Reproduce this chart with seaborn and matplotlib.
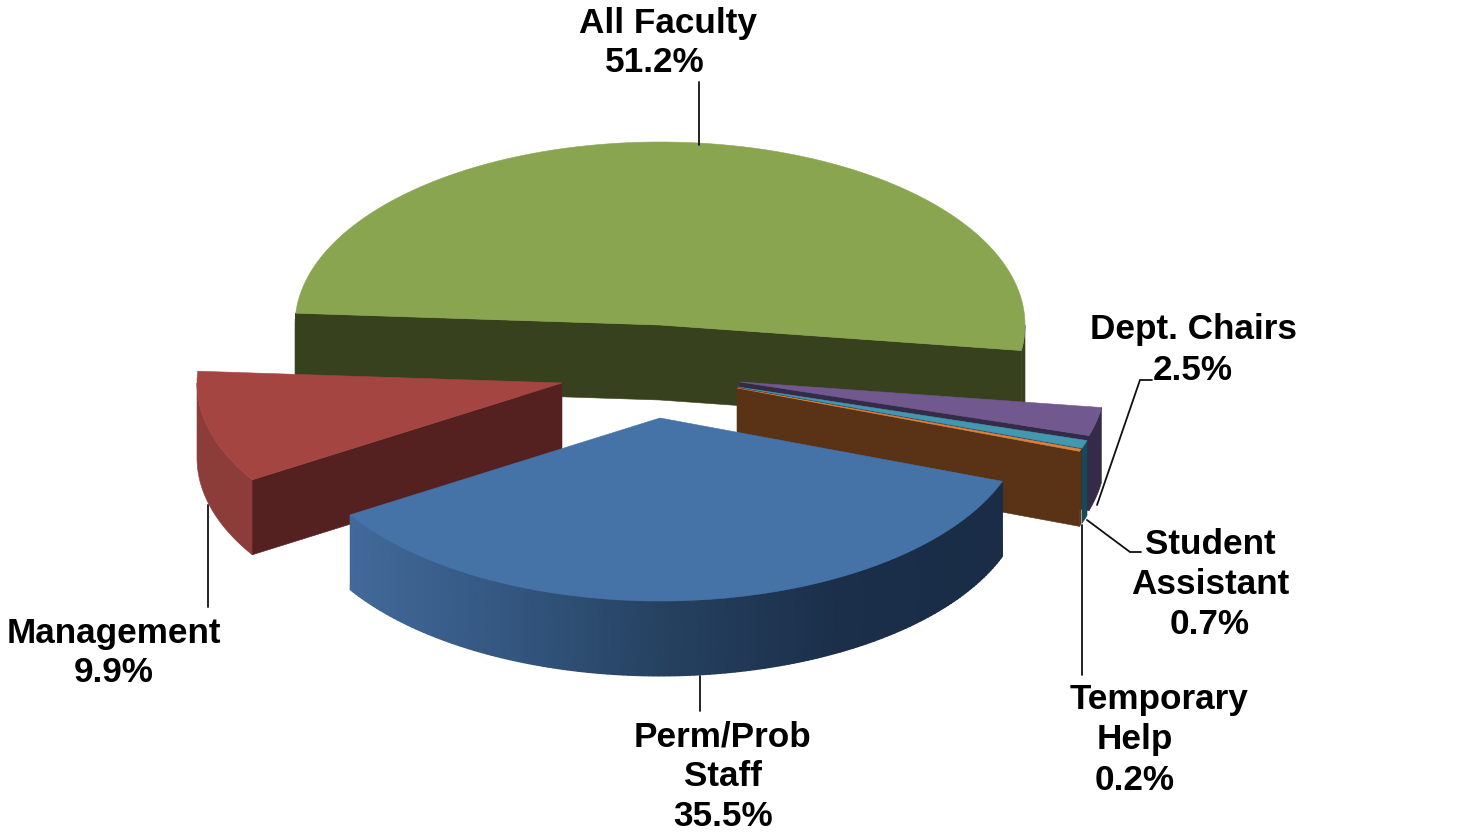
import numpy as np
import matplotlib
matplotlib.use("Agg")
import matplotlib.pyplot as plt
from matplotlib.patches import Polygon
import seaborn as sns

# ---- data ----
categories = ["All Faculty", "Dept. Chairs", "Student Assistant", "Temporary Help", "Perm/Prob Staff", "Management"]
shares = [51.2, 2.5, 0.7, 0.2, 35.5, 9.9]

# ---- style ----
top_colors = ["#8aa550", "#71588f", "#4198af", "#db843d", "#4572a7", "#a54542"]
wall_colors = ["#38411e", "#352a48", "#174a57", "#5c3317", None, "#8c3d3a"]
blue_wall = ["#42699a", "#33567f", "#25405f", "#1b2f4a", "#1a2c46"]
GREEN_CUT, BROWN_CUT, RED_CUT = "#38411e", "#5a3317", "#552120"

START = 176.3
RX, RY, DEPTH = 365.0, 183.0, 75.0
centers = {"All Faculty": (660, 325), "Dept. Chairs": (740, 382), "Student Assistant": (738, 387),
           "Temporary Help": (737, 388), "Perm/Prob Staff": (660, 418), "Management": (562, 383)}
label_lines = {
    "All Faculty": [("All Faculty", 668, 24), (None, 655, 63)],
    "Dept. Chairs": [("Dept. Chairs", 1193, 330), (None, 1193, 370)],
    "Student Assistant": [("Student", 1210, 544), ("Assistant", 1210, 584), (None, 1210, 625)],
    "Temporary Help": [("Temporary", 1159, 699), ("Help", 1135, 739), (None, 1135, 780)],
    "Perm/Prob Staff": [("Perm/Prob", 723, 737), ("Staff", 723, 777), (None, 723, 817)],
    "Management": [("Management", 114, 633), (None, 114, 673)],
}
leaders = [
    ([699, 699], [82, 145]),
    ([1152, 1140, 1097], [380, 380, 505]),
    ([1141, 1130, 1087], [552, 552, 520]),
    ([1082, 1082], [525, 675]),
    ([208, 208], [505, 607]),
    ([700, 700], [676, 711]),
]

sns.set_theme(style="white")
plt.rcParams["font.family"] = ["Liberation Sans", "DejaVu Sans"]

fig, ax = plt.subplots(figsize=(14.59, 8.32), dpi=100)
ax.set_position([0, 0, 1, 1])
ax.set_xlim(0, 1459)
ax.set_ylim(832, 0)
ax.axis("off")


def arc(center, t0, t1, n=160):
    t = np.radians(np.linspace(t0, t1, n))
    return np.column_stack([center[0] + RX * np.cos(t), center[1] - RY * np.sin(t)])


def poly(pts, color, z):
    ax.add_patch(Polygon(pts, closed=True, facecolor=color, edgecolor=color, lw=0.4, zorder=z))


def wall(pts, color, z):
    """Extrude a polyline downwards by the pie depth."""
    poly(np.vstack([pts, (pts + [0, DEPTH])[::-1]]), color, z)


# angular extents, clockwise from START, follow the shares
ends = START - np.cumsum(shares) * 3.6
starts = np.r_[START, ends[:-1]]
order = {"All Faculty": 1, "Management": 2, "Dept. Chairs": 3, "Student Assistant": 4,
         "Temporary Help": 5, "Perm/Prob Staff": 6}
blue_cmap = sns.blend_palette(blue_wall, 256, as_cmap=True)

for i, name in enumerate(categories):
    c = np.array(centers[name], float)
    z = order[name] * 10
    t0, t1 = starts[i], ends[i]
    outer = arc(c, t0, t1)
    if name == "All Faculty":
        wall(arc(c, t0, 180, 10), wall_colors[i], z)
        wall(arc(c, 0, t1, 20), wall_colors[i], z)
        wall(np.array([outer[0], c, outer[-1]]), GREEN_CUT, z)
    elif name == "Management":
        wall(arc(c, t0, -180, 100), wall_colors[i], z)
        wall(np.array([c, outer[0]]), RED_CUT, z + 1)
    elif name == "Perm/Prob Staff":
        X = np.vstack([outer[:, 0], outer[:, 0]])
        Y = np.vstack([outer[:, 1], outer[:, 1] + DEPTH])
        ax.pcolormesh(X, Y, X, cmap=blue_cmap, shading="gouraud", zorder=z, rasterized=True)
    else:
        wall(outer, wall_colors[i], z)
        if name == "Temporary Help":
            wall(np.array([c, outer[-1]]), BROWN_CUT, z + 1)
        elif name == "Dept. Chairs":
            wall(np.array([c, outer[-1]]), wall_colors[i], z + 1)
    poly(np.vstack([c, outer]), top_colors[i], z + 2)

ax.set_xlim(0, 1459)
ax.set_ylim(832, 0)

for xs, ys in leaders:
    ax.plot(xs, ys, color="#111111", lw=1.3, zorder=80, solid_joinstyle="miter")

for name, share in zip(categories, shares):
    for text, x, y in label_lines[name]:
        ax.text(x, y, text if text else f"{share:.1f}%", ha="center", va="center",
                fontsize=25.3, fontweight="bold", color="black", zorder=90)

fig.savefig("out.png", dpi=100)
